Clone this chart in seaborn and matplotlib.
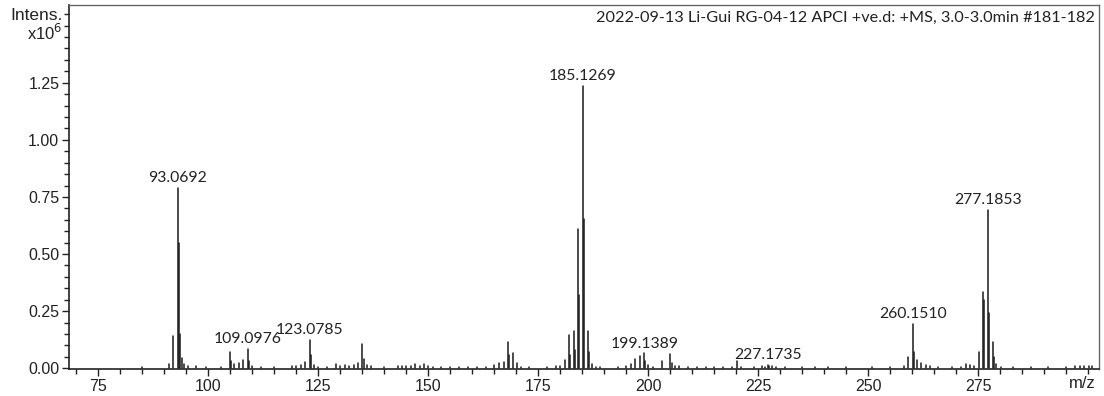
import numpy as np
import pandas as pd
import matplotlib
matplotlib.use("Agg")
import matplotlib.pyplot as plt
from matplotlib.ticker import MultipleLocator, FormatStrFormatter
import seaborn as sns

# ---- data (intensities in units of 10^6) ----
mz = [85.0, 88.0, 91.05, 92.06, 93.07, 93.35, 93.55, 94.07, 94.6, 95.5, 97.3, 99.5, 103.0,
      105.07, 105.3, 106.0, 107.05, 108.05, 109.10, 109.35, 110.1, 112.0, 115.0,
      119.1, 120.1, 121.1, 122.05, 123.08, 123.3, 124.1, 125.1, 127.0,
      129.1, 130.1, 131.1, 132.1, 133.1, 134.1, 135.10, 135.35, 136.1, 137.1, 140.0,
      143.1, 144.1, 145.1, 146.1, 147.1, 148.1, 149.1, 150.1, 151.1, 153.0, 155.1, 157.0,
      159.0, 161.1, 163.1, 165.1, 166.1, 167.3, 168.25, 168.5, 169.25, 170.2, 171.1, 173.0,
      177.1, 179.1, 180.1, 181.1, 182.10, 182.35, 183.15, 183.4, 184.15, 184.4, 185.13,
      185.40, 186.25, 186.5, 187.2, 188.1, 189.1, 193.1, 195.1, 196.1, 197.1, 198.1,
      199.14, 199.4, 200.1, 201.1, 203.1, 205.10, 205.35, 206.1, 207.1, 209.1, 211.1,
      213.1, 215.0, 217.1, 219.1, 220.2, 221.2, 224.0, 226.0, 226.5, 227.17, 227.6, 228.2,
      229.1, 231.1, 235.0, 238.0, 241.0, 245.0, 248.0, 251.0, 255.0, 258.1, 259.15,
      260.15, 260.4, 261.15, 262.15, 263.15, 264.1, 266.0, 269.0, 271.1, 272.2, 273.2,
      274.2, 275.2, 276.20, 276.45, 277.19, 277.45, 278.40, 278.65, 279.2, 280.2, 283.0,
      287.0, 291.0, 295.0, 297.1, 298.1, 299.2, 300.3, 301.0]
intensity = [0.004, 0.003, 0.02, 0.14, 0.79, 0.55, 0.15, 0.045, 0.02, 0.008, 0.012, 0.004, 0.004,
             0.072, 0.03, 0.018, 0.025, 0.035, 0.085, 0.03, 0.012, 0.004, 0.004,
             0.012, 0.01, 0.016, 0.028, 0.125, 0.06, 0.014, 0.006, 0.004,
             0.02, 0.008, 0.016, 0.012, 0.014, 0.022, 0.106, 0.04, 0.016, 0.01, 0.004,
             0.01, 0.008, 0.012, 0.01, 0.02, 0.01, 0.02, 0.008, 0.006, 0.004, 0.006, 0.005,
             0.004, 0.006, 0.006, 0.015, 0.022, 0.028, 0.113, 0.06, 0.068, 0.023, 0.006, 0.004,
             0.005, 0.008, 0.01, 0.038, 0.146, 0.06, 0.165, 0.08, 0.61, 0.32, 1.235,
             0.654, 0.165, 0.07, 0.02, 0.006, 0.006, 0.006, 0.01, 0.02, 0.04, 0.053,
             0.065, 0.03, 0.015, 0.006, 0.033, 0.062, 0.025, 0.01, 0.008, 0.006, 0.006,
             0.005, 0.004, 0.005, 0.006, 0.033, 0.006, 0.004, 0.008, 0.006, 0.014, 0.01, 0.012,
             0.006, 0.005, 0.004, 0.004, 0.004, 0.004, 0.003, 0.004, 0.004, 0.008, 0.05,
             0.194, 0.07, 0.035, 0.025, 0.015, 0.008, 0.004, 0.004, 0.006, 0.02, 0.015,
             0.01, 0.072, 0.334, 0.3, 0.695, 0.24, 0.116, 0.05, 0.02, 0.006, 0.004,
             0.004, 0.005, 0.006, 0.01, 0.008, 0.012, 0.008, 0.01]

label_mz = [93.0692, 109.0976, 123.0785, 185.1269, 199.1389, 227.1735, 260.1510, 277.1853]
label_text = ["93.0692", "109.0976", "123.0785", "185.1269", "199.1389", "227.1735",
              "260.1510", "277.1853"]

x_ticks = [75, 100, 125, 150, 175, 200, 225, 250, 275]
y_ticks = [0.00, 0.25, 0.50, 0.75, 1.00, 1.25]
title_text = "2022-09-13 Li-Gui RG-04-12 APCI +ve.d: +MS, 3.0-3.0min #181-182"

# ---- build long table of sticks ----
rows = []
for i, (m, h) in enumerate(zip(mz, intensity)):
    rows.append((m, 0.0, i))
    rows.append((m, h, i))
df = pd.DataFrame(rows, columns=["mz", "intensity", "peak"])

sns.set_theme(style="ticks")
plt.rcParams["font.family"] = ["Liberation Sans", "DejaVu Sans"]

fig = plt.figure(figsize=(11.04, 3.96), dpi=100)
ax = fig.add_axes([69 / 1104, 1 - 369 / 396, (1099 - 69) / 1104, (369 - 5) / 396])

sns.lineplot(data=df, x="mz", y="intensity", units="peak", estimator=None,
             sort=False, color="#1a1a1a", lw=1.1, ax=ax, legend=False)

ax.set_xlim(68.4, 302.5)
ax.set_ylim(-0.003, 1.59)
ax.set_xticks(x_ticks)
ax.set_yticks(y_ticks)
ax.yaxis.set_major_formatter(FormatStrFormatter("%.2f"))
ax.xaxis.set_minor_locator(MultipleLocator(5))
ax.yaxis.set_minor_locator(MultipleLocator(0.05))
ax.tick_params(axis="both", which="major", direction="out", length=5, width=1,
               labelsize=11.5, colors="#222222", pad=2)
ax.tick_params(axis="both", which="minor", direction="out", length=3.5, width=1,
               colors="#222222")
ax.set_xlabel("")
ax.set_ylabel("")
for side in ["left", "bottom"]:
    ax.spines[side].set_color("#222222")
    ax.spines[side].set_linewidth(1.2)
for side in ["top", "right"]:
    ax.spines[side].set_color("#666666")
    ax.spines[side].set_linewidth(1.0)

# peak labels
mz_arr = np.array(mz)
int_arr = np.array(intensity)
for lm, lt in zip(label_mz, label_text):
    h = int_arr[np.argmin(np.abs(mz_arr - lm))]
    ax.annotate(lt, xy=(lm, h), xytext=(0, 2), textcoords="offset points",
                ha="center", va="bottom", fontsize=11.3, family=["Lato", "DejaVu Sans"],
                color="#222222")

ax.text(0.996, 0.985, title_text, transform=ax.transAxes, ha="right", va="top",
        fontsize=11.7, family=["Lato", "DejaVu Sans"], color="#222222")

fig.text(63 / 1104, 1 - 15 / 396, "Intens.", ha="right", va="center", fontsize=12.5,
         color="#222222")
fig.text(63 / 1104, 1 - 33 / 396, r"x10$^{6}$", ha="right", va="center", fontsize=12,
         color="#222222")
fig.text(1096 / 1104, 1 - 384 / 396, "m/z", ha="right", va="center", fontsize=12,
         color="#222222")

fig.savefig("out.png", dpi=100)
